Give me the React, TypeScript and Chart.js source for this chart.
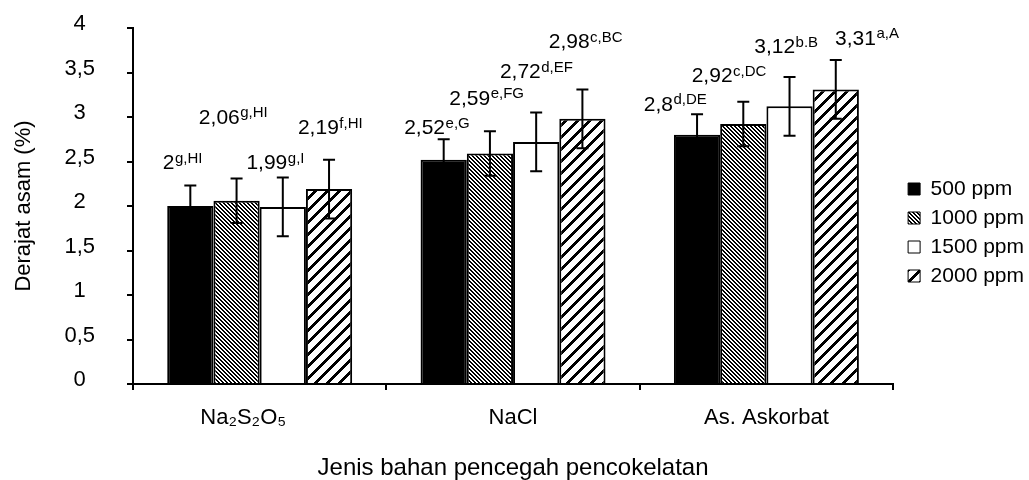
import React, { useEffect, useRef } from 'react';
import { Chart, registerables } from 'chart.js';

Chart.register(...registerables);

const categories = ['Na₂S₂O₅', 'NaCl', 'As. Askorbat'];
const seriesNames = ['500 ppm', '1000 ppm', '1500 ppm', '2000 ppm'];
const values500 = [2.0, 2.52, 2.8];
const values1000 = [2.06, 2.59, 2.92];
const values1500 = [1.99, 2.72, 3.12];
const values2000 = [2.19, 2.98, 3.31];
const errors500 = [0.23, 0.23, 0.23];
const errors1000 = [0.25, 0.25, 0.25];
const errors1500 = [0.33, 0.33, 0.33];
const errors2000 = [0.33, 0.33, 0.33];
const letters500 = ['g,HI', 'e,G', 'd,DE'];
const letters1000 = ['g,HI', 'e,FG', 'c,DC'];
const letters1500 = ['g,I', 'd,EF', 'b.B'];
const letters2000 = ['f,HI', 'c,BC', 'a,A'];
const yTickLabels = ['0', '0,5', '1', '1,5', '2', '2,5', '3', '3,5', '4'];
const yTitle = 'Derajat asam (%)';
const xTitle = 'Jenis bahan pencegah pencokelatan';

// label placement nudges (px) relative to the top of each error bar
const labelNudges = [
  [[-8, -24], [-7, -12.5], [-22, -11]],
  [[-3.5, -62], [-3.5, -34], [-14.5, -27]],
  [[-7.6, -16], [0, -42], [-3.6, -31]],
  [[1, -33], [3, -48.7], [31, -22.7]],
];
// trailing spacing that shifts the first category label left as in the original
const categoryLabelPad = ['\u2002\u2002\u2002', '', ''];

const FONT = "'Liberation Sans', Arial, Helvetica, sans-serif";

function makeHatch(ctx: CanvasRenderingContext2D, n: number, k: number, dir: 'fwd' | 'back') {
  const c = document.createElement('canvas');
  c.width = n;
  c.height = n;
  const tctx = c.getContext('2d')!;
  const img = tctx.createImageData(n, n);
  for (let y = 0; y < n; y++) {
    for (let x = 0; x < n; x++) {
      const m = dir === 'fwd' ? (x + y) % n : (((x - y) % n) + n) % n;
      const v = m < k ? 0 : 255;
      const i = (y * n + x) * 4;
      img.data[i] = v;
      img.data[i + 1] = v;
      img.data[i + 2] = v;
      img.data[i + 3] = 255;
    }
  }
  tctx.putImageData(img, 0, 0);
  return ctx.createPattern(c, 'repeat')!;
}

const fmt = (v: number) => String(v).replace('.', ',');

export default function App() {
  const ref = useRef<HTMLCanvasElement | null>(null);

  useEffect(() => {
    const canvas = ref.current!;
    const ctx0 = canvas.getContext('2d')!;
    const dense = makeHatch(ctx0, 4, 2, 'back');
    const wide = makeHatch(ctx0, 12, 4, 'fwd');

    const valueSets = [values500, values1000, values1500, values2000];
    const errorSets = [errors500, errors1000, errors1500, errors2000];
    const letterSets = [letters500, letters1000, letters1500, letters2000];
    const fills: any[] = ['#000000', dense, '#ffffff', wide];

    const annotate = {
      id: 'annotate',
      afterLayout(chart: any) {
        const lg = chart.legend;
        if (lg) {
          lg.left += 7;
          lg.right += 7;
          lg.top -= 21.5;
          lg.bottom -= 21.5;
        }
      },
      afterDatasetsDraw(chart: any) {
        const ctx = chart.ctx as CanvasRenderingContext2D;
        const yScale = chart.scales.y;
        ctx.save();
        ctx.strokeStyle = '#000';
        ctx.lineWidth = 2;
        chart.data.datasets.forEach((ds: any, di: number) => {
          const meta = chart.getDatasetMeta(di);
          meta.data.forEach((bar: any, i: number) => {
            const v = ds.data[i];
            const e = errorSets[di][i];
            const x = bar.x;
            const yTop = yScale.getPixelForValue(v + e);
            const yBot = yScale.getPixelForValue(v - e);
            ctx.beginPath();
            ctx.moveTo(x, yTop);
            ctx.lineTo(x, yBot);
            ctx.moveTo(x - 6, yTop);
            ctx.lineTo(x + 6, yTop);
            ctx.moveTo(x - 6, yBot);
            ctx.lineTo(x + 6, yBot);
            ctx.stroke();
          });
        });
        ctx.fillStyle = '#000';
        ctx.textAlign = 'left';
        ctx.textBaseline = 'alphabetic';
        const mainFont = `21px ${FONT}`;
        const supFont = `15px ${FONT}`;
        chart.data.datasets.forEach((ds: any, di: number) => {
          const meta = chart.getDatasetMeta(di);
          meta.data.forEach((bar: any, i: number) => {
            const v = ds.data[i];
            const e = errorSets[di][i];
            const yTop = yScale.getPixelForValue(v + e);
            const [dx, dy] = labelNudges[di][i];
            const mainText = fmt(v);
            const sup = letterSets[di][i];
            ctx.font = mainFont;
            const wm = ctx.measureText(mainText).width;
            ctx.font = supFont;
            const ws = ctx.measureText(sup).width;
            const cx = bar.x + dx;
            const cy = yTop + dy;
            const left = cx - (wm + ws) / 2;
            const base = cy + 7.5;
            ctx.font = mainFont;
            ctx.fillText(mainText, left, base);
            ctx.font = supFont;
            ctx.fillText(sup, left + wm + 0.5, base - 6.5);
          });
        });
        ctx.restore();
      },
    };

    const chart = new Chart(canvas, {
      type: 'bar',
      data: {
        labels: categories,
        datasets: seriesNames.map((name, di) => ({
          label: name,
          data: valueSets[di],
          backgroundColor: fills[di],
          borderColor: '#000000',
          borderWidth: 2,
          borderSkipped: 'bottom',
          barPercentage: 1,
          categoryPercentage: 0.73,
        })),
      },
      options: {
        animation: false,
        responsive: false,
        maintainAspectRatio: false,
        font: { family: FONT },
        layout: { padding: { top: 28, right: 2, bottom: 0, left: 0 } },
        plugins: {
          tooltip: { enabled: false },
          legend: {
            position: 'right',
            labels: {
              color: '#000',
              font: { size: 21, family: FONT },
              boxWidth: 12,
              boxHeight: 12,
              padding: 8,
              generateLabels: (chart: any) =>
                Chart.defaults.plugins.legend.labels
                  .generateLabels(chart)
                  .map((it: any) => ({ ...it, lineWidth: 1 })),
            },
          },
        },
        scales: {
          x: {
            grid: {
              display: true,
              drawOnChartArea: false,
              drawTicks: true,
              tickLength: 6,
              color: '#000',
              lineWidth: 2,
              offset: true,
            },
            border: { display: true, color: '#000', width: 2 },
            ticks: {
              color: '#000',
              font: { size: 22, family: FONT },
              padding: 15,
              maxRotation: 0,
              autoSkip: false,
              callback: (_v: any, i: number) => categories[i] + categoryLabelPad[i],
            },
            title: {
              display: true,
              text: xTitle,
              color: '#000',
              font: { size: 24, family: FONT, lineHeight: 1 },
              padding: { top: 0, bottom: 0 },
            },
            afterFit: (s: any) => {
              s.height = 96;
            },
          },
          y: {
            min: 0,
            max: 4,
            grid: {
              drawOnChartArea: false,
              drawTicks: true,
              tickLength: 6,
              color: '#000',
              lineWidth: 2,
            },
            border: { display: true, color: '#000', width: 2 },
            ticks: {
              stepSize: 0.5,
              color: '#000',
              font: { size: 22, family: FONT },
              padding: 32,
              crossAlign: 'center',
              labelOffset: -4,
              callback: (_v: any, i: number) => yTickLabels[i],
            },
            title: {
              display: true,
              text: yTitle,
              color: '#000',
              font: { size: 22, family: FONT },
              padding: { top: 11, bottom: 0 },
            },
            afterFit: (s: any) => {
              s.width = 133;
              s.paddingTop = 0;
              s.paddingBottom = 0;
            },
          },
        },
      } as any,
      plugins: [annotate as any],
    });
    return () => chart.destroy();
  }, []);

  return (
    <div style={{ position: 'fixed', left: 0, top: 0, width: 1029, height: 480, background: '#fff' }}>
      <canvas ref={ref} width={1029} height={480} style={{ display: 'block', width: 1029, height: 480 }} />
    </div>
  );
}
